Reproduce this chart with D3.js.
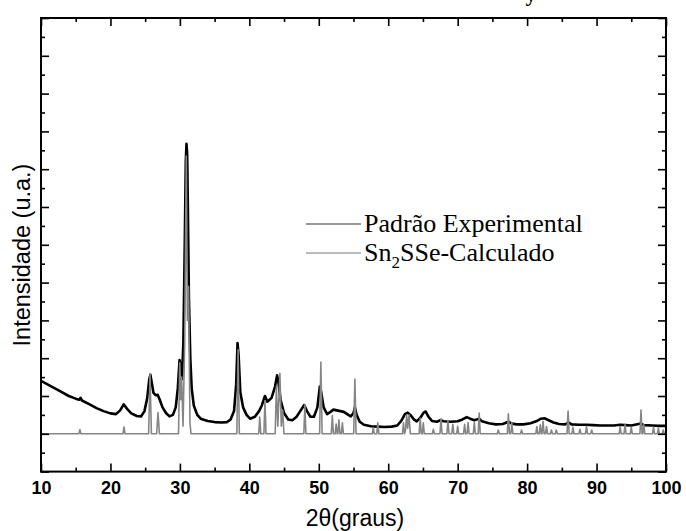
<!DOCTYPE html>
<html><head><meta charset="utf-8">
<script src="https://cdn.jsdelivr.net/npm/d3@7/dist/d3.min.js"></script>
<style>body{margin:0;background:#fff}svg{display:block}</style>
</head><body>
<script>
// ---- data ----
const xMajorTicks = [10,20,30,40,50,60,70,80,90,100];
const xMinorTicks = [15,25,35,45,55,65,75,85,95];
const yMajorTicks = [-1,0,1,2,3,4,5,6,7,8,9,10,11];
const yMinorTicks = [-0.5,0.5,1.5,2.5,3.5,4.5,5.5,6.5,7.5,8.5,9.5,10.5];
const seriesNames = ["Padrão Experimental", "Sn2SSe-Calculado"];

// experimental pattern: [2theta, intensity]
const experimental = [
[10,1.40],[11,1.30],[12,1.20],[13,1.10],[14,1.00],[15,0.93],[15.5,0.90],[15.7,0.95],[15.9,0.88],
[17,0.78],[18,0.68],[19,0.60],[20,0.54],[20.8,0.52],[21.4,0.62],[21.9,0.78],[22.4,0.66],[23,0.54],
[23.8,0.47],[24.4,0.46],[24.9,0.60],[25.3,0.95],[25.6,1.45],[25.75,1.56],[25.95,1.35],[26.2,1.08],
[26.5,1.02],[26.8,1.03],[27.1,0.90],[27.5,0.70],[28,0.55],[28.5,0.46],[29.0,0.50],[29.4,0.70],
[29.7,1.2],[29.95,1.95],[30.15,1.75],[30.3,1.45],[30.5,2.4],[30.7,5.0],[30.85,7.2],[30.95,7.67],
[31.05,7.4],[31.15,6.0],[31.3,3.6],[31.5,2.0],[31.7,1.2],[32.0,0.75],[32.5,0.50],[33,0.40],[34,0.34],
[35,0.31],[36,0.30],[36.8,0.31],[37.3,0.38],[37.8,0.6],[38.1,1.3],[38.3,2.4],[38.45,2.1],[38.7,1.1],
[39.1,0.7],[39.6,0.5],[40.1,0.40],[40.8,0.45],[41.4,0.6],[41.8,0.75],[42.25,1.0],[42.6,0.85],
[43.2,0.95],[43.7,1.25],[44.0,1.55],[44.2,1.35],[44.5,0.9],[45.0,0.55],[45.6,0.38],[46.2,0.36],
[46.8,0.45],[47.4,0.62],[47.9,0.76],[48.3,0.6],[48.8,0.45],[49.3,0.45],[49.8,0.7],[50.15,1.25],
[50.35,1.1],[50.7,0.7],[51.2,0.52],[51.7,0.58],[52.1,0.64],[52.6,0.62],[53.1,0.60],[53.6,0.58],
[54.1,0.52],[54.6,0.46],[55.0,0.55],[55.2,0.7],[55.45,0.5],[55.9,0.32],[56.5,0.24],[57.5,0.20],
[58.5,0.19],[59.5,0.18],[60.5,0.19],[61.3,0.22],[61.9,0.35],[62.4,0.52],[62.8,0.56],[63.2,0.50],
[63.7,0.38],[64.1,0.33],[64.6,0.42],[65.1,0.56],[65.4,0.59],[65.8,0.45],[66.3,0.34],[67,0.32],
[67.5,0.36],[68,0.33],[69,0.32],[70,0.33],[70.7,0.38],[71.3,0.44],[71.8,0.40],[72.4,0.36],
[73.1,0.40],[73.5,0.33],[74.5,0.28],[75.5,0.25],[76.5,0.26],[77.3,0.32],[77.8,0.27],[78.5,0.25],
[79.5,0.25],[80.5,0.28],[81.3,0.33],[82.0,0.40],[82.5,0.41],[83.1,0.36],[83.8,0.30],[84.6,0.26],
[85.5,0.25],[86.0,0.30],[86.4,0.25],[87.5,0.24],[88.5,0.24],[89.5,0.23],[90.5,0.22],[91.5,0.22],
[92.5,0.22],[93.4,0.24],[94.2,0.23],[95,0.22],[96.4,0.27],[96.8,0.23],[98,0.22],[99,0.21],[100,0.21]
];

// calculated pattern: [2theta, intensity]
const calculated = [
[10,0],[15.45,0],[15.6,0.11],[15.75,0],[21.8,0],[21.95,0.18],[22.1,0],[25.5,0],[25.7,1.59],[25.9,0],
[26.65,0],[26.85,0.56],[27.05,0],[29.8,0],[29.98,1.88],[30.12,0.9],[30.25,1.5],[30.45,0.2],[30.7,2.5],
[30.92,7.35],[31.08,3.0],[31.25,3.9],[31.45,0.3],[31.6,0],[38.2,0],[38.38,2.22],[38.56,0],
[41.35,0],[41.5,0.44],[41.65,0],[42.1,0],[42.25,0.88],[42.4,0],[43.72,0],[43.9,1.25],[44.1,0.2],
[44.4,1.6],[44.6,0.2],[44.8,0.63],[44.98,0],[47.85,0],[48.0,0.77],[48.15,0],[50.12,0],[50.3,1.9],
[50.48,0],[51.8,0],[51.95,0.48],[52.1,0],[52.35,0],[52.5,0.26],[52.65,0],[52.75,0],[52.9,0.37],
[53.05,0],[53.25,0],[53.4,0.29],[53.55,0],[55.03,0],[55.2,1.45],[55.37,0],[57.7,0],[57.85,0.16],
[58.0,0],[58.35,0],[58.5,0.29],[58.65,0],[62.05,0],[62.2,0.29],[62.35,0],[62.5,0.1],[62.65,0.5],
[62.8,0.15],[63.0,0.5],[63.18,0],[64.45,0],[64.6,0.41],[64.75,0],[64.9,0],[65.05,0.29],[65.2,0],
[66.35,0],[66.5,0.12],[66.65,0],[67.45,0],[67.6,0.4],[67.75,0],[68.45,0],[68.6,0.35],[68.75,0],
[69.15,0],[69.3,0.25],[69.45,0],[69.85,0],[70.0,0.2],[70.15,0],[70.85,0],[71.0,0.25],[71.15,0],
[71.35,0],[71.5,0.3],[71.65,0],[72.25,0],[72.4,0.3],[72.55,0],[72.95,0],[73.1,0.55],[73.25,0],
[75.7,0],[75.85,0.1],[76.0,0],[77.15,0],[77.3,0.53],[77.45,0],[77.65,0],[77.8,0.3],[77.95,0],
[79.05,0],[79.2,0.1],[79.35,0],[81.25,0],[81.4,0.19],[81.55,0],[81.75,0],[81.9,0.24],[82.05,0],
[82.15,0],[82.3,0.33],[82.45,0],[82.65,0],[82.8,0.19],[82.95,0],[83.35,0],[83.5,0.1],[83.65,0],
[84.05,0],[84.2,0.1],[84.35,0],[85.75,0],[85.9,0.6],[86.05,0],[86.45,0],[86.6,0.17],[86.75,0],
[87.45,0],[87.6,0.12],[87.75,0],[88.4,0],[88.55,0.19],[88.7,0],[89.15,0],[89.3,0.1],[89.45,0],
[93.25,0],[93.4,0.19],[93.55,0],[93.95,0],[94.1,0.24],[94.25,0],[94.85,0],[95.0,0.17],[95.15,0],
[96.25,0],[96.4,0.63],[96.55,0],[96.65,0],[96.8,0.24],[96.95,0],[98.05,0],[98.2,0.17],[98.35,0],
[98.75,0],[98.9,0.15],[99.05,0],[99.45,0],[99.6,0.1],[99.75,0],[100,0]
];

// ---- drawing ----
const W = 686, H = 531;
const L = 41, R = 666, T = 18, B = 471.6;
const svg = d3.select("body").append("svg").attr("width", W).attr("height", H);
const x = d3.scaleLinear().domain([10, 100]).range([L, R]);
const y = d3.scaleLinear().domain([-1, 11]).range([B, T]);

const line = d3.line().x(d => x(d[0])).y(d => y(d[1]));
svg.append("clipPath").attr("id","clip").append("rect")
  .attr("x", L).attr("y", T).attr("width", R - L).attr("height", B - T);
const plot = svg.append("g").attr("clip-path","url(#clip)");
plot.append("path").datum(experimental).attr("d", line)
  .attr("fill","none").attr("stroke","#000").attr("stroke-width",2.6).attr("stroke-linejoin","round");
plot.append("path").datum(calculated).attr("d", line)
  .attr("fill","none").attr("stroke","#858585").attr("stroke-width",1.6).attr("stroke-linejoin","round");

function styleAxis(g){ g.select(".domain").remove(); g.selectAll("line").attr("stroke","#000").attr("stroke-width",1.6); }

// bottom
svg.append("g").attr("transform",`translate(0,${B})`)
  .call(d3.axisBottom(x).tickValues(xMajorTicks).tickSize(-8).tickPadding(10).tickFormat(d3.format("d")))
  .call(styleAxis)
  .call(g => g.selectAll("text").attr("font-family","Liberation Sans, Arial, sans-serif")
      .attr("font-weight","bold").attr("font-size",18).attr("fill","#000"));
svg.append("g").attr("transform",`translate(0,${B})`)
  .call(d3.axisBottom(x).tickValues(xMinorTicks).tickSize(-4).tickFormat("")).call(styleAxis);
// top
svg.append("g").attr("transform",`translate(0,${T})`)
  .call(d3.axisTop(x).tickValues(xMajorTicks).tickSize(-8).tickFormat("")).call(styleAxis);
svg.append("g").attr("transform",`translate(0,${T})`)
  .call(d3.axisTop(x).tickValues(xMinorTicks).tickSize(-4).tickFormat("")).call(styleAxis);
// left
svg.append("g").attr("transform",`translate(${L},0)`)
  .call(d3.axisLeft(y).tickValues(yMajorTicks).tickSize(-8).tickFormat("")).call(styleAxis);
svg.append("g").attr("transform",`translate(${L},0)`)
  .call(d3.axisLeft(y).tickValues(yMinorTicks).tickSize(-4).tickFormat("")).call(styleAxis);
// right
svg.append("g").attr("transform",`translate(${R},0)`)
  .call(d3.axisRight(y).tickValues(yMajorTicks).tickSize(-8).tickFormat("")).call(styleAxis);
svg.append("g").attr("transform",`translate(${R},0)`)
  .call(d3.axisRight(y).tickValues(yMinorTicks).tickSize(-4).tickFormat("")).call(styleAxis);

// frame
svg.append("rect").attr("x", L).attr("y", T).attr("width", R - L).attr("height", B - T)
  .attr("fill","none").attr("stroke","#000").attr("stroke-width",2);

// axis titles
svg.append("text").attr("x", 355).attr("y", 526).attr("text-anchor","middle")
  .attr("font-family","Liberation Sans, Arial, sans-serif").attr("font-size",23).attr("fill","#000")
  .text("2θ(graus)");
svg.append("text").attr("transform","translate(30,255) rotate(-90)").attr("text-anchor","middle")
  .attr("font-family","Liberation Sans, Arial, sans-serif").attr("font-size",23.5).attr("fill","#000")
  .text("Intensidade (u.a.)");

// title fragment (cut off at top, as in the reference)
svg.append("text").attr("x", 531).attr("y", 0.5).attr("text-anchor","middle")
  .attr("font-family","Liberation Serif, Times New Roman, serif").attr("font-weight","bold")
  .attr("font-size",22).attr("fill","#000").text("y");

// legend
const leg = svg.append("g");
seriesNames.forEach((name, i) => {
  const yy = 224 + i * 29;
  leg.append("line").attr("x1", 306).attr("x2", 361).attr("y1", yy).attr("y2", yy)
    .attr("stroke", i === 0 ? "#333" : "#777").attr("stroke-width", 1.2);
  const t = leg.append("text").attr("x", 364).attr("y", yy + 8)
    .attr("font-family","Liberation Serif, Times New Roman, serif").attr("font-size",26).attr("fill","#000");
  if (name.includes("Sn2")) {
    t.append("tspan").text("Sn");
    t.append("tspan").attr("font-size",17).attr("dy",7).text("2");
    t.append("tspan").attr("dy",-7).text(name.replace("Sn2",""));
  } else t.text(name);
});
</script>
</body></html>
